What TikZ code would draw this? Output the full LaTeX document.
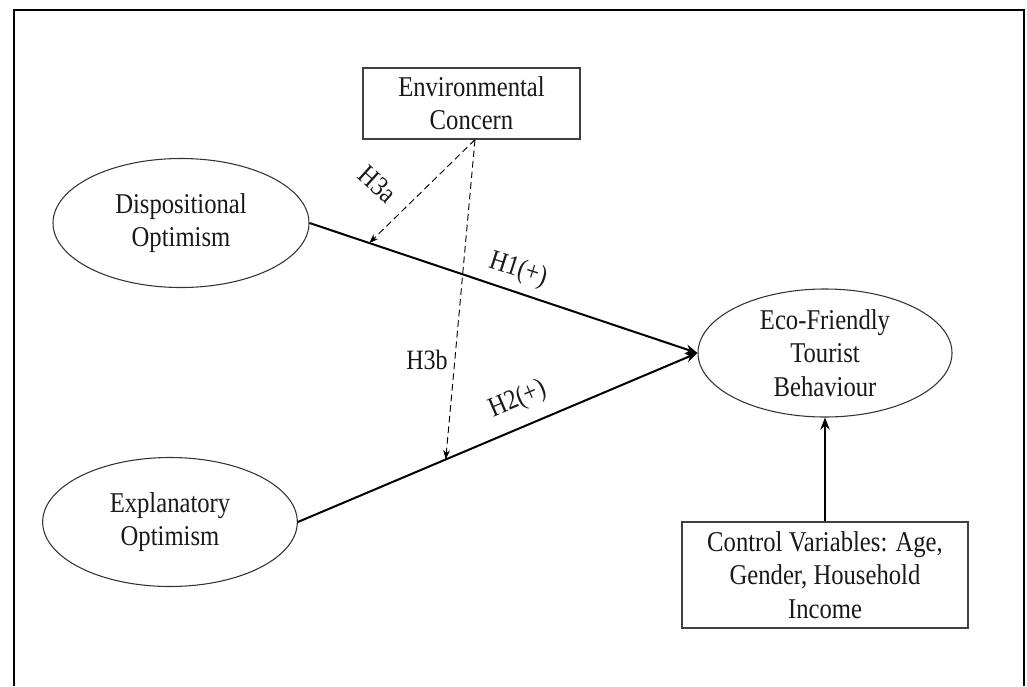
\documentclass[tikz,border=0pt]{standalone}
\usepackage{fontspec}
\setmainfont{Liberation Serif}
\newfontfamily\tallserif[FakeStretch=0.86]{Liberation Serif}
\usetikzlibrary{shapes.geometric,arrows.meta,calc}
\begin{document}
\begin{tikzpicture}[x=0.75pt,y=-0.75pt,
  txt/.style={font=\tallserif\fontsize{21.5}{25}\selectfont, align=center, text=black!90},
  lbl/.style={font=\tallserif\fontsize{21}{24}\selectfont, text=black!90, inner sep=1pt},
  oval/.style={txt, draw=black!80, line width=0.8pt, ellipse, inner sep=0pt},
  box/.style={txt, draw=black!75, line width=1pt, rectangle, inner sep=0pt},
  path/.style={line width=1.5pt, -{Stealth[length=9pt,width=7pt]}},
  mod/.style={line width=0.7pt, dash pattern=on 5pt off 3pt, -{Stealth[length=7pt,width=5pt]}}
]
\useasboundingbox (0,0) rectangle (1027,686);
\fill[white] (0,0) rectangle (1027,686);
% outer frame (open at bottom)
\draw[line width=1.5pt] (14,686) -- (14,10) -- (1024,10) -- (1024,686);

\node[oval, minimum width=192pt, minimum height=96.75pt] (disp) at (181,223) {Dispositional\\Optimism};
\node[oval, minimum width=191pt, minimum height=96.75pt] (expl) at (170,522) {Explanatory\\Optimism};
\node[oval, minimum width=190.5pt, minimum height=96pt] (eco) at (825,353) {Eco-Friendly\\Tourist\\Behaviour};
\node[box, minimum width=162.75pt, minimum height=53.25pt] (env) at (471.5,103.5) {Environmental\\Concern};
\node[box, minimum width=214.5pt, minimum height=79.5pt] (ctrl) at (825,575) {Control Variables: Age,\\Gender, Household\\Income};

\draw[path] (disp.east) -- (eco.west);
\draw[path] (expl.east) -- (eco.west);
\draw[path] (ctrl.north) -- (eco.south);

\coordinate (envout) at ($(env.south)+(3.5,0)$);
\coordinate (m1) at ($(disp.east)!0.154!(eco.west)$);
\coordinate (m2) at ($(expl.east)!0.37!(eco.west)$);
\draw[mod] (envout) -- (m1);
\draw[mod] (envout) -- (m2);

\node[lbl, rotate=-42] (h3a) at (378,184) {H3a};
\node[lbl, rotate=-18] (h1) at (518,270) {H1(+)};
\node[lbl] (h3b) at (427,360) {H3b};
\node[lbl, rotate=23] (h2) at (518,400) {H2(+)};
\end{tikzpicture}
\end{document}
